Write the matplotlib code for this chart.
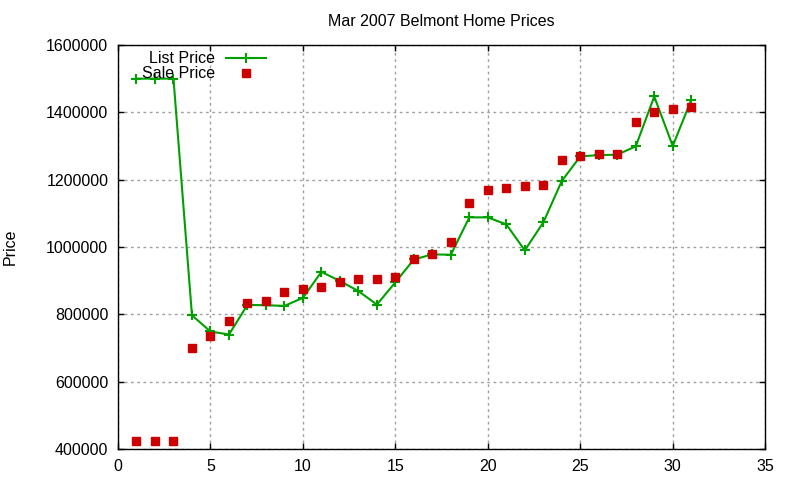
import numpy as np
import matplotlib
matplotlib.use("Agg")
import matplotlib.pyplot as plt

# listing number (1..31) vs price
day = list(range(1, 32))
list_price = [1500000, 1500000, 1500000, 797000, 749000, 740000, 828000, 827000,
              825000, 849000, 926000, 899000, 869000, 829000, 895000, 963000,
              978000, 977000, 1088000, 1088000, 1067000, 990000, 1073000, 1196000,
              1269000, 1273000, 1274000, 1299000, 1447000, 1300000, 1437000]
sale_price = [425000, 425000, 425000, 700000, 736000, 780000, 833000, 839000,
              865000, 874000, 880000, 896000, 904000, 904000, 910000, 963000,
              978000, 1014000, 1130000, 1168000, 1174000, 1180000, 1183000, 1257000,
              1269000, 1275000, 1275000, 1370000, 1402000, 1411000, 1417000]

xticks = list(range(0, 36, 5))
yticks = list(range(400000, 1600001, 200000))

plt.rcParams['font.family'] = ['Liberation Sans', 'DejaVu Sans']
plt.rcParams['font.size'] = 11.5

fig = plt.figure(figsize=(8, 4.8), dpi=100)
ax = fig.add_axes([0.1475, 0.0646, 0.809, 0.8417])

ax.plot(day, list_price, color='#00a000', lw=1.5, marker='+', ms=7, mew=1.5,
        label='List Price', zorder=3)
ax.plot(day, sale_price, ls='none', color='#cc0000', marker='s', ms=6,
        label='Sale Price', zorder=4)

ax.set_xlim(0, 35)
ax.set_ylim(400000, 1600000)
ax.set_xticks(xticks)
ax.set_yticks(yticks)
ax.ticklabel_format(axis='y', style='plain', useOffset=False)
ax.tick_params(direction='in', top=True, right=True, length=4, width=1,
               labelsize=11.5, colors='black', pad=7)
ax.grid(True, color='#a0a0a0', ls=(0, (2, 2.5)), lw=1)
ax.set_axisbelow(True)
for s in ax.spines.values():
    s.set_linewidth(1)

ax.set_title('Mar 2007 Belmont Home Prices', fontsize=11.5, pad=14)
ax.set_ylabel('Price', fontsize=11.5)
ax.yaxis.set_label_coords(-0.155, 0.5)

ax.legend(loc='upper left', bbox_to_anchor=(0.027, 1.0), frameon=False,
          markerfirst=False, labelspacing=0.0, handlelength=2.5,
          handletextpad=0.7, borderaxespad=0, fontsize=11.5)

fig.savefig('out.png', dpi=100)
